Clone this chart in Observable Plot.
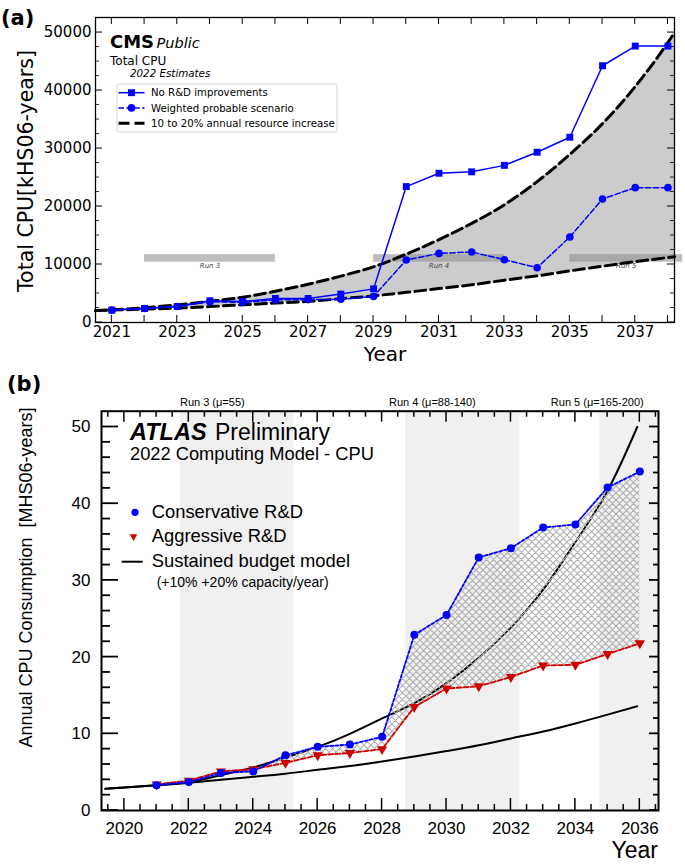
<!DOCTYPE html>
<html><head><meta charset="utf-8">
<script src="https://cdn.jsdelivr.net/npm/d3@7"></script>
<script src="https://cdn.jsdelivr.net/npm/@observablehq/plot@0.6"></script>
<style>
html,body{margin:0;padding:0;background:#fff;}
#wrap{position:relative;width:685px;height:867px;overflow:hidden;background:#fff;}
#wrap svg{position:absolute;left:0;}
</style></head><body><div id="wrap"></div>
<script>
// ================= Panel (a): CMS =================
const yearsA = [2021, 2022, 2023, 2024, 2025, 2026, 2027, 2028, 2029, 2030, 2031, 2032, 2033, 2034, 2035, 2036, 2037, 2038];
const noRDA = [2140, 2420, 2760, 3750, 3630, 4150, 4150, 4900, 5800, 23440, 25740, 25980, 27100, 29360, 31950, 44280, 47670, 47670];
const weightedA = [2140, 2420, 2760, 3600, 3450, 3900, 3950, 4000, 4490, 10780, 11920, 12160, 10830, 9450, 14750, 21310, 23260, 23260];
const budgetYearsA = [2020.5, 2021, 2022, 2023, 2024, 2025, 2026, 2027, 2028, 2029, 2030, 2031, 2032, 2033, 2034, 2035, 2036, 2037, 2038, 2038.2];
const budgetLowA = [2050, 2140, 2300, 2500, 2750, 3050, 3350, 3650, 4100, 4600, 5200, 5850, 6500, 7300, 8050, 8900, 9700, 10500, 11200, 11350];
const budgetHighA = [2050, 2180, 2550, 3050, 3650, 4350, 5400, 6600, 8000, 9600, 11800, 14300, 17100, 20300, 24300, 29000, 34300, 40700, 48300, 50000];
const runNamesA = ["Run 3", "Run 4", "Run 5"];
const runStartA = [2022, 2029, 2035];
const runEndA = [2026, 2033, 2038.45];
const runBarA = [10400, 11700];
const xDomainA = [2020.5, 2038.2];
const yDomainA = [0, 52600];
const xTickLabelsA = [2021, 2023, 2025, 2027, 2029, 2031, 2033, 2035, 2037];
const xTicksA = yearsA;
const yTickLabelsA = [0, 10000, 20000, 30000, 40000, 50000];
const yMinorA = d3.range(2500, 52600, 2500).filter(v => v % 10000 !== 0);

// ================= Panel (b): ATLAS =================
const yearsB = [2021, 2022, 2023, 2024, 2025, 2026, 2027, 2028, 2029, 2030, 2031, 2032, 2033, 2034, 2035, 2036];
const conservativeB = [3.3, 3.7, 4.9, 5.1, 7.2, 8.3, 8.6, 9.6, 22.9, 25.5, 33.0, 34.2, 36.9, 37.3, 42.1, 44.2];
const aggressiveB = [3.4, 3.9, 5.1, 5.4, 6.2, 7.2, 7.5, 8.0, 13.5, 15.9, 16.2, 17.4, 18.9, 19.0, 20.4, 21.8];
const budgetYearsB = [2019.41, 2020, 2021, 2022, 2023, 2024, 2025, 2026, 2027, 2028, 2029, 2030, 2031, 2032, 2033, 2034, 2035, 2035.92];
const budgetLowB = [2.83, 3.0, 3.3, 3.6, 4.0, 4.4, 4.8, 5.3, 5.8, 6.4, 7.05, 7.75, 8.5, 9.4, 10.3, 11.35, 12.5, 13.6];
const budgetHighB = [2.83, 3.0, 3.3, 3.7, 4.6, 5.6, 6.9, 8.3, 10.0, 12.0, 14.0, 16.6, 19.9, 23.9, 28.8, 35.0, 41.7, 50.0];
const runNamesB = ["Run 3 (μ=55)", "Run 4 (μ=88-140)", "Run 5 (μ=165-200)"];
const runStartB = [2021.74, 2028.73, 2034.76];
const runEndB = [2025.26, 2032.28, 2036.58];
const runLabelAtB = [2022.73, 2029.56, 2034.68];
const xDomainB = [2019.29, 2036.58];
const yDomainB = [0, 52.06];
const xTickLabelsB = [2020, 2022, 2024, 2026, 2028, 2030, 2032, 2034, 2036];
const xMinorB = d3.range(2019.5, 2036.6, 0.5).filter(v => !(Number.isInteger(v) && v % 2 === 0));
const yTickLabelsB = [0, 10, 20, 30, 40, 50];
const yMinorB = d3.range(2, 52, 2).filter(v => v % 10 !== 0);

// ---------- tables ----------
const seriesA = yearsA.map((year, i) => ({year, noRD: noRDA[i], weighted: weightedA[i]}));
const budgetA = budgetYearsA.map((year, i) => ({year, low: budgetLowA[i], high: budgetHighA[i]}));
const runsA = runNamesA.map((name, i) => ({name, start: runStartA[i], end: runEndA[i]}));
const rdB = yearsB.map((year, i) => ({year, cons: conservativeB[i], aggr: aggressiveB[i]}));
const budgetB = budgetYearsB.map((year, i) => ({year, low: budgetLowB[i], high: budgetHighB[i]}));
const runsB = runNamesB.map((name, i) => ({name, start: runStartB[i], end: runEndB[i], at: runLabelAtB[i]}));

const wrap = document.getElementById("wrap");

// ---------- helper: inward ticks using the chart's scales ----------
function drawTicks(svg, chart, side, values, len, width) {
  const sx = chart.scale("x"), sy = chart.scale("y");
  const [xl, xr] = sx.range, [yb, yt] = sy.range;
  const g = svg.append("g").attr("stroke", "#000").attr("stroke-width", width).attr("fill", "none");
  for (const v of values) {
    let x1, x2, y1, y2;
    if (side === "bottom") { x1 = x2 = sx.apply(v); y1 = yb; y2 = yb - len; }
    else if (side === "top") { x1 = x2 = sx.apply(v); y1 = yt; y2 = yt + len; }
    else if (side === "left") { y1 = y2 = sy.apply(v); x1 = xl; x2 = xl + len; }
    else { y1 = y2 = sy.apply(v); x1 = xr; x2 = xr - len; }
    g.append("line").attr("x1", x1).attr("x2", x2).attr("y1", y1).attr("y2", y2);
  }
}

// ================= Chart A =================
const chartA = Plot.plot({
  width: 685, height: 365,
  marginLeft: 95, marginRight: 11, marginTop: 17, marginBottom: 43,
  style: {background: "transparent", fontFamily: "DejaVu Sans", fontSize: "15px", color: "#000"},
  x: {domain: xDomainA, label: null},
  y: {domain: yDomainA, label: null},
  marks: [
    Plot.areaY(budgetA, {x: "year", y1: "low", y2: "high", fill: "#cccccc", curve: "monotone-x"}),
    Plot.rect(runsA, {x1: "start", x2: "end", y1: runBarA[0], y2: runBarA[1], fill: "#8f8f8f", fillOpacity: 0.59}),
    Plot.text(runsA, {x: d => (d.start + d.end) / 2, y: runBarA[0], text: "name", dy: 4, fontSize: 7, fontStyle: "italic", fill: "#444"}),
    Plot.line(budgetA, {x: "year", y: "high", stroke: "#000", strokeWidth: 3, strokeDasharray: "11,5", curve: "monotone-x"}),
    Plot.line(budgetA, {x: "year", y: "low", stroke: "#000", strokeWidth: 3, strokeDasharray: "11,5", curve: "monotone-x"}),
    Plot.line(seriesA, {x: "year", y: "noRD", stroke: "#0000ff", strokeWidth: 1.5}),
    Plot.dot(seriesA, {x: "year", y: "noRD", symbol: "square", r: 3.9, fill: "#0000ff"}),
    Plot.line(seriesA, {x: "year", y: "weighted", stroke: "#0000ff", strokeWidth: 1.5, strokeDasharray: "5.5,2.4"}),
    Plot.dot(seriesA, {x: "year", y: "weighted", r: 3.8, fill: "#0000ff"}),
    Plot.frame({stroke: "#000", strokeWidth: 1.3}),
    Plot.axisX(xTickLabelsA, {tickSize: 0, tickPadding: 4, tickFormat: "d", label: null}),
    Plot.axisY(yTickLabelsA, {tickSize: 0, tickPadding: 4, tickFormat: "d", label: null})
  ]
});
chartA.style.top = "0px";
wrap.appendChild(chartA);
{
  const svg = d3.select(chartA);
  drawTicks(svg, chartA, "bottom", xTicksA, 7, 1);
  drawTicks(svg, chartA, "top", xTicksA, 7, 1);
  drawTicks(svg, chartA, "left", yTickLabelsA, 7, 1);
  drawTicks(svg, chartA, "right", yTickLabelsA, 7, 1);
  drawTicks(svg, chartA, "left", yMinorA, 4, 0.8);
  drawTicks(svg, chartA, "right", yMinorA, 4, 0.8);
  const g = svg.append("g").attr("font-family", "DejaVu Sans").attr("fill", "#000").attr("text-anchor", "start");
  g.append("text").attr("x", 1).attr("y", 24.5).attr("font-size", 21).attr("font-weight", "bold").text("(a)");
  g.append("text").attr("transform", "translate(33,171) rotate(-90)").attr("text-anchor", "middle").attr("font-size", 20.5).text("Total CPU[kHS06-years]");
  g.append("text").attr("x", 385).attr("y", 361).attr("text-anchor", "middle").attr("font-size", 20).text("Year");
  g.append("text").attr("x", 110).attr("y", 48.3).attr("font-size", 18).attr("font-weight", "bold").text("CMS");
  g.append("text").attr("x", 156.5).attr("y", 48.3).attr("font-size", 14.5).attr("font-style", "italic").text("Public");
  g.append("text").attr("x", 110).attr("y", 65).attr("font-size", 12).text("Total CPU");
  g.append("text").attr("x", 130).attr("y", 77).attr("font-size", 10.3).attr("font-style", "italic").text("2022 Estimates");
  // legend
  const lg = svg.append("g").attr("text-anchor", "start");
  lg.append("rect").attr("x", 117).attr("y", 84).attr("width", 220).attr("height", 48).attr("rx", 2.5)
    .attr("fill", "#fff").attr("fill-opacity", 0.8).attr("stroke", "#cccccc").attr("stroke-width", 0.8);
  const rows = [
    {y: 92.7, label: "No R&D improvements", color: "#0000ff", w: 1.5, dash: null, sym: "square"},
    {y: 107.9, label: "Weighted probable scenario", color: "#0000ff", w: 1.5, dash: "5.5,2.4", sym: "circle"},
    {y: 123.3, label: "10 to 20% annual resource increase", color: "#000", w: 3, dash: "11,5", sym: null}
  ];
  for (const r of rows) {
    const ln = lg.append("line").attr("x1", 118.5).attr("x2", 144.5).attr("y1", r.y).attr("y2", r.y)
      .attr("stroke", r.color).attr("stroke-width", r.w);
    if (r.dash) ln.attr("stroke-dasharray", r.dash);
    if (r.sym === "square") lg.append("rect").attr("x", 131.5 - 3.45).attr("y", r.y - 3.45).attr("width", 6.9).attr("height", 6.9).attr("fill", r.color);
    if (r.sym === "circle") lg.append("circle").attr("cx", 131.5).attr("cy", r.y).attr("r", 3.8).attr("fill", r.color);
    lg.append("text").attr("x", 151).attr("y", r.y + 3.7).attr("font-family", "DejaVu Sans").attr("font-size", 10.2).text(r.label);
  }
}

// ================= Chart B =================
const chartB = Plot.plot({
  width: 685, height: 507,
  marginLeft: 101, marginRight: 27, marginTop: 50.7, marginBottom: 57,
  style: {background: "transparent", fontFamily: "Liberation Sans, Arial, sans-serif", fontSize: "17px", color: "#000"},
  x: {domain: xDomainB, label: null},
  y: {domain: yDomainB, label: null},
  marks: [
    Plot.rect(runsB, {x1: "start", x2: "end", y1: yDomainB[0], y2: yDomainB[1], fill: "#f0f0f0"}),
    Plot.text(runsB, {x: "at", text: "name", frameAnchor: "top", lineAnchor: "bottom", dy: -5.7, fontSize: 11}),
    Plot.line(budgetB, {x: "year", y: "low", stroke: "#000", strokeWidth: 2, curve: "natural"}),
    Plot.line(budgetB, {x: "year", y: "high", stroke: "#000", strokeWidth: 2, curve: "natural"}),
    Plot.areaY(rdB, {x: "year", y1: "aggr", y2: "cons", fill: "url(#hatchB)"}),
    Plot.line(rdB, {x: "year", y: "aggr", stroke: "#cc0000", strokeWidth: 1.8, strokeDasharray: "5,2"}),
    Plot.line(rdB, {x: "year", y: "cons", stroke: "#0000ff", strokeWidth: 1.8, strokeDasharray: "3,2"}),
    Plot.dot(rdB, {x: "year", y: "aggr", symbol: "triangle", rotate: 180, r: 3.8, fill: "#cc0000"}),
    Plot.dot(rdB, {x: "year", y: "cons", r: 4, fill: "#0000ff"}),
    Plot.frame({stroke: "#000", strokeWidth: 2}),
    Plot.axisX(xTickLabelsB, {tickSize: 0, tickPadding: 11, tickFormat: "d", label: null}),
    Plot.axisY(yTickLabelsB, {tickSize: 0, tickPadding: 11, tickFormat: "d", label: null})
  ]
});
chartB.style.top = "360px";
wrap.appendChild(chartB);
{
  const svg = d3.select(chartB);
  const defs = svg.insert("defs", ":first-child");
  const pat = defs.append("pattern").attr("id", "hatchB").attr("patternUnits", "userSpaceOnUse")
    .attr("width", 7).attr("height", 7);
  pat.append("path")
    .attr("d", "M-1,1 L1,-1 M0,7 L7,0 M6,8 L8,6 M-1,6 L1,8 M0,0 L7,7 M6,-1 L8,1")
    .attr("stroke", "#b0b0b0").attr("stroke-width", 1.1).attr("fill", "none");
  drawTicks(svg, chartB, "bottom", xTickLabelsB, 12, 1.5);
  drawTicks(svg, chartB, "top", xTickLabelsB, 11, 1.5);
  drawTicks(svg, chartB, "bottom", xMinorB, 6, 1.5);
  drawTicks(svg, chartB, "top", xMinorB, 6, 1.5);
  drawTicks(svg, chartB, "left", yTickLabelsB, 17, 1.8);
  drawTicks(svg, chartB, "left", yMinorB, 9, 1.8);
  drawTicks(svg, chartB, "right", yTickLabelsB, 9, 1.8);
  drawTicks(svg, chartB, "right", yMinorB, 5, 1.8);
  const g = svg.append("g").attr("font-family", "Liberation Sans, Arial, sans-serif").attr("fill", "#000").attr("text-anchor", "start");
  g.append("text").attr("x", 7).attr("y", 30.5).attr("font-family", "DejaVu Sans").attr("font-size", 21).attr("font-weight", "bold").text("(b)");
  g.append("text").attr("transform", "translate(31.5,217.5) rotate(-90)").attr("text-anchor", "middle").attr("font-size", 18).text("Annual CPU Consumption  [MHS06-years]");
  g.append("text").attr("x", 658).attr("y", 498).attr("text-anchor", "end").attr("font-size", 23).text("Year");
  g.append("text").attr("x", 130).attr("y", 80).attr("font-size", 23.5).attr("font-weight", "bold").attr("font-style", "italic").text("ATLAS");
  g.append("text").attr("x", 215).attr("y", 80).attr("font-size", 23).text("Preliminary");
  g.append("text").attr("x", 130).attr("y", 100).attr("font-size", 18.3).text("2022 Computing Model - CPU");
  // legend
  g.append("circle").attr("cx", 135).attr("cy", 152.3).attr("r", 3.6).attr("fill", "#0000ff");
  g.append("text").attr("x", 151.7).attr("y", 158.3).attr("font-size", 18.4).text("Conservative R&D");
  g.append("path").attr("d", "M-3.8,-3 L3.8,-3 L0,3.8 Z").attr("transform", "translate(133.5,177.3)").attr("fill", "#cc0000");
  g.append("text").attr("x", 151.7).attr("y", 181.7).attr("font-size", 18.4).text("Aggressive R&D");
  g.append("line").attr("x1", 121.7).attr("x2", 142.7).attr("y1", 201.7).attr("y2", 201.7).attr("stroke", "#000").attr("stroke-width", 2);
  g.append("text").attr("x", 151.7).attr("y", 206.7).attr("font-size", 18.4).text("Sustained budget model");
  g.append("text").attr("x", 156.7).attr("y", 226.7).attr("font-size", 14).text("(+10% +20% capacity/year)");
}
</script></body></html>
